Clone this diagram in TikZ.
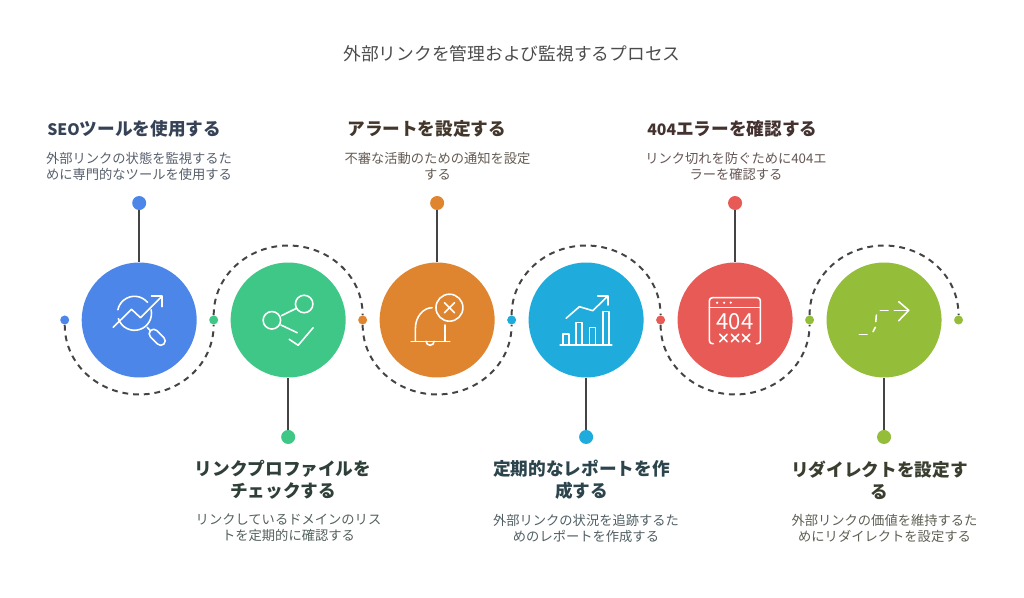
\documentclass[tikz,border=0pt]{standalone}
\usepackage{fontspec}
\setmainfont{Noto Sans CJK JP}
\usetikzlibrary{positioning, calc}

\definecolor{seoblue}{HTML}{4C86E8}
\definecolor{linkgreen}{HTML}{3EC786}
\definecolor{alertorange}{HTML}{DF8530}
\definecolor{reportcyan}{HTML}{1FACDC}
\definecolor{errorred}{HTML}{E85A55}
\definecolor{redirectlime}{HTML}{94BD3A}
\definecolor{trailgray}{HTML}{444444}
\newcommand{\headlatin}[1]{{\fontsize{9}{12.5}\selectfont #1}}

\begin{document}
\begin{tikzpicture}[x=0.02cm, y=0.02cm, node distance=2.98cm]
    % Define block styles
    \tikzset{
        disc/.style={circle, minimum size=2.3cm, inner sep=0pt},
        pin/.style={circle, minimum size=0.28cm, inner sep=0pt},
        joint/.style={circle, minimum size=0.18cm, inner sep=0pt},
        stem/.style={draw=trailgray, line width=1.13pt},
        trail/.style={draw=trailgray, line width=1.13pt, dash pattern=on 3.3pt off 2.8pt},
        heading/.style={font=\fontsize{10.05}{12.5}\selectfont\bfseries, align=center, inner sep=0pt},
        note/.style={font=\fontsize{7.56}{9.1}\selectfont, align=center, inner sep=0pt},
        icon/.style={draw=white, line width=0.9pt, line cap=round, line join=round}
    }
    \useasboundingbox (0,0) rectangle (1024,598);

    % Place title
    \node [inner sep=0pt, text=black!70, font=\fontsize{10.1}{12.5}\selectfont] (title) at (512,544) {外部リンクを管理および監視するプロセス};

    % Place discs
    \node [disc, fill=seoblue] (seo) at (139.2,278) {};
    \node [disc, fill=linkgreen, right of=seo] (profile) {};
    \node [disc, fill=alertorange, right of=profile] (alert) {};
    \node [disc, fill=reportcyan, right of=alert] (report) {};
    \node [disc, fill=errorred, right of=report] (missing) {};
    \node [disc, fill=redirectlime, right of=missing] (redirect) {};

    % Place pins
    \node [pin, fill=seoblue, above of=seo, node distance=2.34cm] (seo_pin) {};
    \node [pin, fill=linkgreen, below of=profile, node distance=2.34cm] (profile_pin) {};
    \node [pin, fill=alertorange, above of=alert, node distance=2.34cm] (alert_pin) {};
    \node [pin, fill=reportcyan, below of=report, node distance=2.34cm] (report_pin) {};
    \node [pin, fill=errorred, above of=missing, node distance=2.34cm] (missing_pin) {};
    \node [pin, fill=redirectlime, below of=redirect, node distance=2.34cm] (redirect_pin) {};

    % Place joints on the trail
    \node [joint, fill=seoblue, left of=seo, node distance=1.49cm] (seo_joint) {};
    \node [joint, fill=linkgreen, left of=profile, node distance=1.49cm] (profile_joint) {};
    \node [joint, fill=alertorange, left of=alert, node distance=1.49cm] (alert_joint) {};
    \node [joint, fill=reportcyan, left of=report, node distance=1.49cm] (report_joint) {};
    \node [joint, fill=errorred, left of=missing, node distance=1.49cm] (missing_joint) {};
    \node [joint, fill=redirectlime, left of=redirect, node distance=1.49cm] (redirect_joint) {};
    \node [joint, fill=redirectlime, right of=redirect, node distance=1.49cm] (end_joint) {};

    % Turning points of the trail
    \coordinate [below of=seo, node distance=1.49cm] (seo_turn);
    \coordinate [above of=profile, node distance=1.49cm] (profile_turn);
    \coordinate [below of=alert, node distance=1.49cm] (alert_turn);
    \coordinate [above of=report, node distance=1.49cm] (report_turn);
    \coordinate [below of=missing, node distance=1.49cm] (missing_turn);
    \coordinate [above of=redirect, node distance=1.49cm] (redirect_turn);

    % Draw connections
    \draw [stem] (seo_pin) -- (seo);
    \draw [stem] (profile_pin) -- (profile);
    \draw [stem] (alert_pin) -- (alert);
    \draw [stem] (report_pin) -- (report);
    \draw [stem] (missing_pin) -- (missing);
    \draw [stem] (redirect_pin) -- (redirect);

    \draw [trail] (seo_joint) to[out=-90, in=180] (seo_turn) to[out=0, in=-90] (profile_joint);
    \draw [trail] (profile_joint) to[out=90, in=180] (profile_turn) to[out=0, in=90] (alert_joint);
    \draw [trail] (alert_joint) to[out=-90, in=180] (alert_turn) to[out=0, in=-90] (report_joint);
    \draw [trail] (report_joint) to[out=90, in=180] (report_turn) to[out=0, in=90] (missing_joint);
    \draw [trail] (missing_joint) to[out=-90, in=180] (missing_turn) to[out=0, in=-90] (redirect_joint);
    \draw [trail] (redirect_joint) to[out=90, in=180] (redirect_turn) to[out=0, in=90] (end_joint);

    % Add text above and below the discs
    \node [heading, anchor=west, text=seoblue!25!black!85] (seo_head) at (47,469) {\headlatin{SEO}ツールを使用する};
    \node [note, text=seoblue!20!black!70] (seo_note) at (139,432) {外部リンクの状態を監視するた\\めに専門的なツールを使用する};
    \node [heading, anchor=west, text=alertorange!15!black!85] (alert_head) at (347,469) {アラートを設定する};
    \node [note, text=alertorange!15!black!70] (alert_note) at (437.5,432) {不審な活動のための通知を設定\\する};
    \node [heading, anchor=west, text=errorred!15!black!85] (missing_head) at (647,469) {\headlatin{404}エラーを確認する};
    \node [note, text=errorred!15!black!70] (missing_note) at (736,432) {リンク切れを防ぐために404エ\\ラーを確認する};

    \node [heading, text=linkgreen!15!black!85] (profile_head) at (283,118) {リンクプロファイルを\\チェックする};
    \node [note, text=linkgreen!15!black!70] (profile_note) at (288.5,70) {リンクしているドメインのリス\\トを定期的に確認する};
    \node [heading, text=reportcyan!20!black!85] (report_head) at (581.5,118) {定期的なレポートを作\\成する};
    \node [note, text=reportcyan!15!black!70] (report_note) at (586,70) {外部リンクの状況を追跡するた\\めのレポートを作成する};
    \node [heading, text=redirectlime!15!black!85] (redirect_head) at (879.5,118) {リダイレクトを設定す\\る};
    \node [note, text=redirectlime!15!black!70] (redirect_note) at (884.5,70) {外部リンクの価値を維持するた\\めにリダイレクトを設定する};

    % Icon of the first disc
    \begin{scope}[shift={(seo)}]
        \draw [icon] (-4.7,6.7) +(40:17) arc[start angle=40, end angle=168, radius=0.34cm];
        \draw [icon] (-4.7,6.7) +(198:17) arc[start angle=198, end angle=372, radius=0.34cm];
        \draw [icon] (-26,-7.3) -- (-7.7,10.7) -- (1.3,2.3) -- (22.3,23.3);
        \draw [icon] (12.3,24) -- (23,24) -- (23,13.3);
        \draw [icon] (8,-7.3) -- (11.3,-11);
        \draw [icon, shift={(18,-17.3)}, rotate=-45, rounded corners=0.09cm] (-9.5,-4.5) rectangle (9.5,4.5);
    \end{scope}

    % Icon of the second disc
    \begin{scope}[shift={(profile)}]
        \draw [icon] (16,16) circle[radius=0.175cm];
        \draw [icon] (-16.3,-0.3) circle[radius=0.175cm];
        \draw [icon] (-6.7,4.3) -- (8.3,11.7);
        \draw [icon] (-7.3,-5) -- (9,-12.7);
        \draw [icon] (1,-19.3) -- (10,-25.3) -- (25,-7.7);
    \end{scope}

    % Icon of the third disc
    \begin{scope}[shift={(alert)}]
        \draw [icon] (12.3,12.3) circle[radius=0.27cm];
        \draw [icon] (7.3,7.3) -- (17.3,17.3);
        \draw [icon] (7.3,17.3) -- (17.3,7.3);
        \draw [icon] (-26,-21.3) -- (12.7,-21.3);
        \draw [icon] (-21.7,-21.3) -- (-21.7,-8) .. controls (-21.7,3) and (-14,12.3) .. (-5,12.3);
        \draw [icon] (7.7,-5) -- (7.7,-21.3);
        \draw [icon] (-11,-21.3) arc[start angle=180, end angle=360, radius=0.08cm];
    \end{scope}

    % Icon of the fourth disc
    \begin{scope}[shift={(report)}]
        \draw [icon] (-26,-25) -- (25.7,-25);
        \draw [icon] (-23.3,-25) |- (-17.3,-14) -- (-17.3,-25);
        \draw [icon] (-10,-25) |- (-4.3,-2.7) -- (-4.3,-25);
        \draw [icon] (3.3,-25) |- (9.3,-7.3) -- (9.3,-25);
        \draw [icon] (16.7,-25) |- (22.7,8.3) -- (22.7,-25);
        \draw [icon] (-20,1.7) -- (-6.7,13.3) -- (6.7,9.3) -- (21,23.3);
        \draw [icon] (11.7,24) -- (21.7,24) -- (21.7,15);
    \end{scope}

    % Icon of the fifth disc
    \begin{scope}[shift={(missing)}]
        \draw [icon, rounded corners=0.06cm] (-21.7,-23.7) -- (-25.7,-23.7) -- (-25.7,22.3) -- (25.3,22.3) -- (25.3,-23.7) -- (21.3,-23.7);
        \draw [icon] (-25.7,12.3) -- (25.3,12.3);
        \fill [white] (-18,17.3) circle[radius=0.025cm] (-11,17.3) circle[radius=0.025cm] (-4.3,17.3) circle[radius=0.025cm];
        \node [text=white, inner sep=0pt, font=\fontsize{12.6}{12.6}\selectfont] (missing_code) at (0,-1.7) {404};
        \draw [icon] (-15.4,-21.7) -- (-8,-14.3) (-15.4,-14.3) -- (-8,-21.7);
        \draw [icon] (-3.7,-21.7) -- (3.7,-14.3) (-3.7,-14.3) -- (3.7,-21.7);
        \draw [icon] (7.3,-21.7) -- (14.7,-14.3) (7.3,-14.3) -- (14.7,-21.7);
    \end{scope}

    % Icon of the sixth disc
    \begin{scope}[shift={(redirect)}]
        \draw [icon] (-24.7,-14.7) -- (-17,-14.7);
        \draw [icon] (-11,-11.7) -- (-8.7,-7.3);
        \draw [icon] (-8.3,-1.7) -- (-7.7,5);
        \draw [icon] (-3.7,9.7) -- (4,9.7);
        \draw [icon] (10.3,9.7) -- (23.7,9.7);
        \draw [icon] (14.7,18.3) -- (24.7,9.7) -- (14.7,-0.7);
    \end{scope}
\end{tikzpicture}
\end{document}
